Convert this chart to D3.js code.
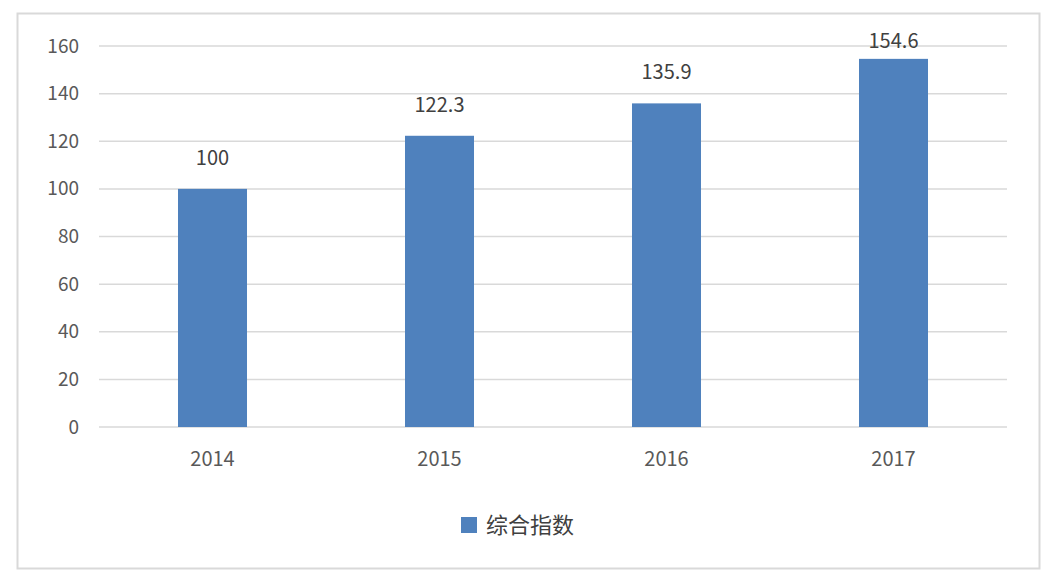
<!DOCTYPE html>
<html><head><meta charset="utf-8">
<script src="https://cdn.jsdelivr.net/npm/d3@7"></script>
<style>body{margin:0;background:#fff;}svg{display:block;}</style>
</head><body>
<svg id="c" width="1045" height="576"></svg>
<script>
const categories = ["2014","2015","2016","2017"];
const values = [100, 122.3, 135.9, 154.6];
const labels = ["100","122.3","135.9","154.6"];
const yTicks = [0,20,40,60,80,100,120,140,160];
const seriesName = "综合指数";

const svg = d3.select("#c");
const font = "'Microsoft YaHei','Noto Sans CJK SC','Liberation Sans',Arial,sans-serif";
svg.append("rect").attr("x",17.5).attr("y",13.5).attr("width",1022).attr("height",555)
  .attr("fill","#fff").attr("stroke","#d9d9d9").attr("stroke-width",2);

const x = d3.scaleBand().domain(categories).range([99,1007]).paddingInner(0.696).paddingOuter(0.348);
const y = d3.scaleLinear().domain([0,160]).range([427,46]);

const g = svg.append("g");
g.selectAll("line.grid").data(yTicks).join("line")
  .attr("x1",99).attr("x2",1007).attr("y1",d=>y(d)).attr("y2",d=>y(d))
  .attr("stroke","#d9d9d9").attr("stroke-width",1.5);

const yAxis = g.append("g").attr("transform","translate(99,0)")
  .call(d3.axisLeft(y).tickValues(yTicks).tickSize(0).tickPadding(20));
yAxis.select(".domain").remove();
yAxis.selectAll("text").attr("font-family",font).attr("font-size",19).attr("fill","#595959");

g.selectAll("rect.bar").data(values).join("rect")
  .attr("x",(d,i)=>x(categories[i])).attr("width",x.bandwidth())
  .attr("y",d=>y(d)).attr("height",d=>y(0)-y(d)).attr("fill","#4f81bd");

const xAxis = g.append("g").attr("transform","translate(0,427)")
  .call(d3.axisBottom(x).tickSize(0).tickPadding(25));
xAxis.select(".domain").remove();
xAxis.selectAll("text").attr("font-family",font).attr("font-size",20).attr("fill","#595959");

g.selectAll("text.lbl").data(values).join("text")
  .attr("x",(d,i)=>x(categories[i])+x.bandwidth()/2).attr("y",d=>Math.max(y(d)-24, 48))
  .attr("text-anchor","middle").attr("font-family",font).attr("font-size",20).attr("fill","#404040")
  .text((d,i)=>labels[i]);

const leg = svg.append("g");
leg.append("rect").attr("x",461).attr("y",517).attr("width",16).attr("height",16).attr("fill","#4f81bd");
leg.append("text").attr("x",486).attr("y",533).attr("font-family",font).attr("font-size",22).attr("fill","#404040").text(seriesName);
</script>
</body></html>
